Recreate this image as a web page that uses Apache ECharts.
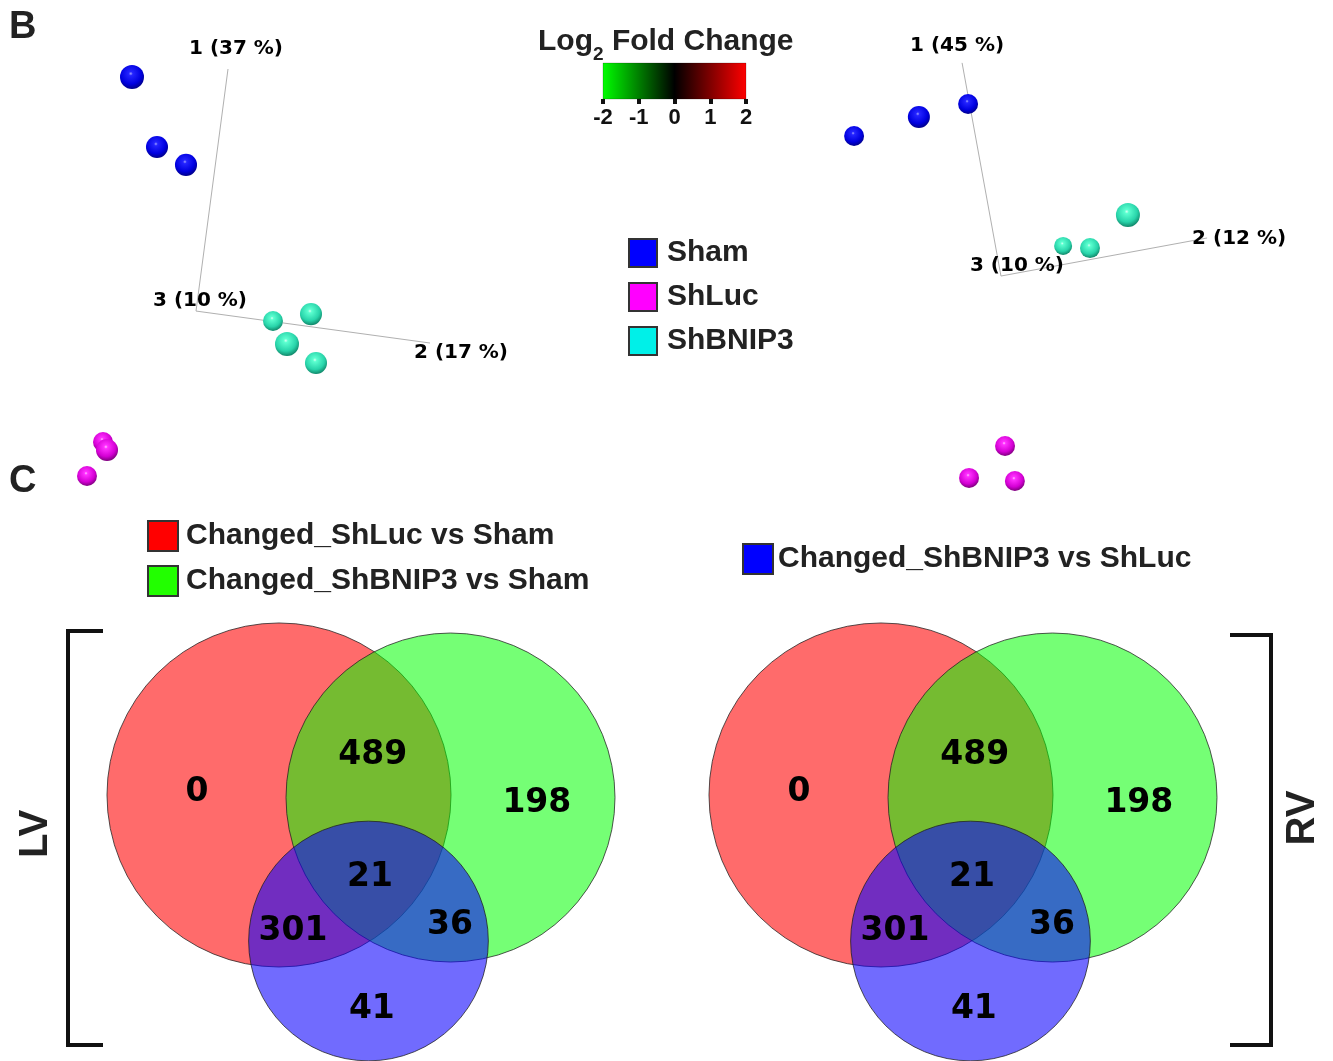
<!DOCTYPE html>
<html>
<head>
<meta charset="utf-8">
<title>PCA and Venn</title>
<script src="https://cdn.jsdelivr.net/npm/echarts@6/dist/echarts.min.js"></script>
<style>
  html, body { margin: 0; padding: 0; background: #fff; }
  #main { width: 1333px; height: 1061px; }
</style>
</head>
<body>
<div id="main"></div>
<script>
// ---- data ----
var groups = ['Sham', 'ShLuc', 'ShBNIP3'];

// PCA scores: [projected x, projected y, depth]
var lvSham = [[-6.32, 8.00, 2], [-5.32, 5.02, 0.7], [-4.16, 4.26, 0.7]];
var lvShLuc = [[-7.48, -7.53, -0.7], [-7.32, -7.87, 0.7], [-8.12, -8.98, -0.7]];
var lvShBNIP3 = [[-0.68, -2.38, -0.7], [0.84, -2.09, 0.7], [-0.12, -3.36, 2], [1.04, -4.17, 0.7]];
var rvSham = [[-8.58, 5.49, -0.7], [-5.88, 6.30, 0.7], [-3.83, 6.85, -0.7]];
var rvShLuc = [[-2.29, -7.70, -0.7], [-3.79, -9.06, -0.7], [-1.88, -9.19, -0.7]];
var rvShBNIP3 = [[2.83, 2.13, 2], [0.13, 0.81, -2], [1.25, 0.72, -0.7]];

// PCA axis triads: origin, end of PC1, end of PC2
var lvAxisOrigin = [-3.76, -1.96];
var lvAxisEnds = [[-2.48, 8.34], [5.60, -3.32]];
var rvAxisOrigin = [-2.46, -0.47];
var rvAxisEnds = [[-4.08, 8.60], [6.13, 1.15]];
var lvAxisLabels = ['1 (37 %)', '2 (17 %)', '3 (10 %)'];
var rvAxisLabels = ['1 (45 %)', '2 (12 %)', '3 (10 %)'];

var foldRange = [-2, 2];

var vennSets = ['Changed_ShLuc vs Sham', 'Changed_ShBNIP3 vs Sham', 'Changed_ShBNIP3 vs ShLuc'];
var vennRegions = ['A', 'B', 'C', 'AB', 'AC', 'BC', 'ABC'];
var lvCounts = [0, 198, 41, 489, 301, 36, 21];
var rvCounts = [0, 198, 41, 489, 301, 36, 21];

// ---- layout / style ----
var sansBold = 'Liberation Sans';
var verdana = 'DejaVu Sans';
var ink = '#222';

var vennCircles = [[42.34, 56.60, 36.6], [78.83, 56.06, 35.0], [61.38, 25.53, 25.5]];
var regionAnchors = {
  A: [24.9, 57.7], B: [97.2, 55.5], C: [62.1, 11.7],
  AB: [62.3, 65.7], AC: [45.3, 28.3], BC: [78.7, 29.4], ABC: [61.7, 39.6]
};
var vennFill = ['rgba(255,0,0,0.58)', 'rgba(0,255,0,0.54)', 'rgba(10,0,253,0.58)'];
var vennKey = ['#ff0000', '#22ff00', '#0000ff'];
var groupKey = ['#0000ff', '#ff00ff', '#00f0e8'];

function sphere(stops) {
  return {
    type: 'radial', x: 0.45, y: 0.36, r: 0.7,
    colorStops: [
      { offset: 0, color: stops[0] },
      { offset: 0.12, color: stops[1] },
      { offset: 0.62, color: stops[2] },
      { offset: 1, color: stops[3] }
    ]
  };
}
var sphereColor = [
  sphere(['#a0a0ff', '#2424ff', '#0000e0', '#000070']),
  sphere(['#ffc0ff', '#ff30ff', '#d400d4', '#660066']),
  sphere(['#d8fff2', '#5cffd0', '#28d4aa', '#0b7258'])
];

var chart = echarts.init(document.getElementById('main'), null, { renderer: 'canvas' });

var series = [];

function pcaSeries(idx, sets, origin, ends, labels, offsets) {
  sets.forEach(function(pts, g) {
    series.push({
      name: groups[g], type: 'scatter', xAxisIndex: idx, yAxisIndex: idx,
      data: pts, symbolSize: function(v) { return 21 + v[2] * 1.5; },
      itemStyle: { color: sphereColor[g], opacity: 1 }, z: 3
    });
  });
  ends.forEach(function(e) {
    series.push({
      type: 'line', xAxisIndex: idx, yAxisIndex: idx, data: [origin, e],
      showSymbol: false, silent: true, z: 2,
      lineStyle: { color: '#b0b0b0', width: 1 }
    });
  });
  var lab = [ends[0], ends[1], origin].map(function(p, i) {
    return {
      value: p,
      label: { show: true, formatter: labels[i], offset: offsets[i] }
    };
  });
  series.push({
    type: 'scatter', xAxisIndex: idx, yAxisIndex: idx, data: lab, symbolSize: 1,
    silent: true, itemStyle: { color: 'transparent', opacity: 1 }, z: 4,
    label: { position: 'inside', fontFamily: verdana, fontWeight: 'bold', fontSize: 20, color: '#000', opacity: 1 }
  });
}
pcaSeries(0, [lvSham, lvShLuc, lvShBNIP3], lvAxisOrigin, lvAxisEnds, lvAxisLabels, [[8, -20], [31, 10], [4, -10]]);
pcaSeries(1, [rvSham, rvShLuc, rvShBNIP3], rvAxisOrigin, rvAxisEnds, rvAxisLabels, [[-5, -17], [32, 1], [16, -10]]);

// colour key
series.push({
  type: 'custom', xAxisIndex: 2, yAxisIndex: 2, data: [[foldRange[0], foldRange[1]]], silent: true, z: 1,
  renderItem: function(params, api) {
    var a = api.coord([api.value(0), 1]);
    var b = api.coord([api.value(1), 0]);
    return {
      type: 'rect',
      shape: { x: a[0], y: a[1], width: b[0] - a[0], height: b[1] - a[1] },
      style: {
        fill: {
          type: 'linear', x: 0, y: 0, x2: 1, y2: 0,
          colorStops: [
            { offset: 0, color: '#00ff00' },
            { offset: 0.5, color: '#000000' },
            { offset: 1, color: '#ff0000' }
          ]
        },
        stroke: 'rgba(0,0,0,0.2)', lineWidth: 1
      }
    };
  }
});

function vennSeries(idx, counts) {
  vennCircles.forEach(function(c, i) {
    series.push({
      name: vennSets[i], type: 'custom', xAxisIndex: idx, yAxisIndex: idx,
      data: [c], clip: false, z: 2 + i,
      itemStyle: { color: vennFill[i] },
      renderItem: function(params, api) {
        var p = api.coord([api.value(0), api.value(1)]);
        var r = api.size([api.value(2), 0])[0];
        return {
          type: 'circle', shape: { cx: p[0], cy: p[1], r: r },
          style: { fill: vennFill[i], stroke: 'rgba(30,30,30,0.75)', lineWidth: 1 }
        };
      }
    });
  });
  series.push({
    type: 'scatter', xAxisIndex: idx, yAxisIndex: idx, symbolSize: 1, silent: true, z: 10,
    itemStyle: { color: 'transparent', opacity: 1 },
    data: vennRegions.map(function(r, i) {
      return { value: regionAnchors[r].concat([counts[i]]) };
    }),
    label: {
      show: true, position: 'inside', offset: [0, 3], formatter: function(p) { return p.value[2]; },
      fontFamily: verdana, fontWeight: 'bold', fontSize: 33, color: '#000', opacity: 1
    }
  });
}
vennSeries(3, lvCounts);
vennSeries(4, rvCounts);

var hiddenAxis = function(idx, min, max) {
  return { gridIndex: idx, type: 'value', min: min, max: max, show: false };
};

chart.setOption({
  animation: false,
  backgroundColor: '#fff',
  title: {
    left: 538, top: 20, padding: 0,
    text: '{t|Log}{s|2}{t| Fold Change}',
    textStyle: {
      rich: {
        t: { fontFamily: sansBold, fontWeight: 'bold', fontSize: 30, color: ink, lineHeight: 44 },
        s: { fontFamily: sansBold, fontWeight: 'bold', fontSize: 19, color: ink, lineHeight: 44, verticalAlign: 'bottom' }
      }
    }
  },
  legend: [
    {
      data: groups.map(function(g, i) {
        return { name: g, icon: 'rect', itemStyle: { color: groupKey[i], borderColor: '#333', borderWidth: 2, opacity: 1 } };
      }),
      orient: 'vertical', left: 628, top: 238, padding: 0,
      itemWidth: 28, itemHeight: 28, itemGap: 14,
      textStyle: { fontFamily: sansBold, fontWeight: 'bold', fontSize: 30, color: ink, padding: [0, 0, 0, 5] }
    },
    {
      data: vennSets.slice(0, 2).map(function(s, i) {
        return { name: s, icon: 'rect', itemStyle: { color: vennKey[i], borderColor: '#333', borderWidth: 2 } };
      }),
      orient: 'vertical', left: 147, top: 520, padding: 0,
      itemWidth: 30, itemHeight: 30, itemGap: 13,
      textStyle: { fontFamily: sansBold, fontWeight: 'bold', fontSize: 30, color: ink, padding: [0, 0, 0, 3] }
    },
    {
      data: [{ name: vennSets[2], icon: 'rect', itemStyle: { color: vennKey[2], borderColor: '#333', borderWidth: 2 } }],
      left: 742, top: 543, padding: 0,
      itemWidth: 30, itemHeight: 30,
      textStyle: { fontFamily: sansBold, fontWeight: 'bold', fontSize: 30, color: ink }
    }
  ],
  grid: [
    { left: 40, top: 30, width: 500, height: 470 },
    { left: 820, top: 30, width: 480, height: 470 },
    { left: 603, top: 63, width: 143, height: 36 },
    { left: 80, top: 591, width: 564, height: 470 },
    { left: 682, top: 591, width: 564, height: 470 }
  ],
  xAxis: [
    hiddenAxis(0, -10, 10),
    hiddenAxis(1, -10, 10),
    {
      gridIndex: 2, type: 'value', min: foldRange[0], max: foldRange[1], interval: 1,
      axisLine: { show: false }, splitLine: { show: false },
      axisTick: { show: true, length: 5, lineStyle: { color: '#111', width: 4 } },
      axisLabel: { fontFamily: sansBold, fontWeight: 'bold', fontSize: 22, color: '#111', margin: 8 }
    },
    hiddenAxis(3, 0, 120),
    hiddenAxis(4, 0, 120)
  ],
  yAxis: [
    hiddenAxis(0, -10, 10),
    hiddenAxis(1, -10, 10),
    hiddenAxis(2, 0, 1),
    hiddenAxis(3, 0, 100),
    hiddenAxis(4, 0, 100)
  ],
  series: series,
  graphic: [
    { type: 'text', left: 9, top: 9, style: { text: 'B', font: 'bold 38px "Liberation Sans"', fill: ink } },
    { type: 'text', left: 9, top: 463, style: { text: 'C', font: 'bold 38px "Liberation Sans"', fill: ink } },
    {
      type: 'text', x: 36, y: 834, rotation: Math.PI / 2,
      style: { text: 'LV', font: 'bold 40px "Liberation Sans"', fill: ink, align: 'center', verticalAlign: 'middle' }
    },
    {
      type: 'text', x: 1303, y: 818, rotation: Math.PI / 2,
      style: { text: 'RV', font: 'bold 40px "Liberation Sans"', fill: ink, align: 'center', verticalAlign: 'middle' }
    },
    {
      type: 'polyline', shape: { points: [[103, 631], [68, 631], [68, 1045], [103, 1045]] },
      style: { stroke: '#111', lineWidth: 4, fill: null }
    },
    {
      type: 'polyline', shape: { points: [[1230, 635], [1271, 635], [1271, 1045], [1230, 1045]] },
      style: { stroke: '#111', lineWidth: 4, fill: null }
    }
  ]
});
window.addEventListener('resize', function() { chart.resize(); });
</script>
</body>
</html>
